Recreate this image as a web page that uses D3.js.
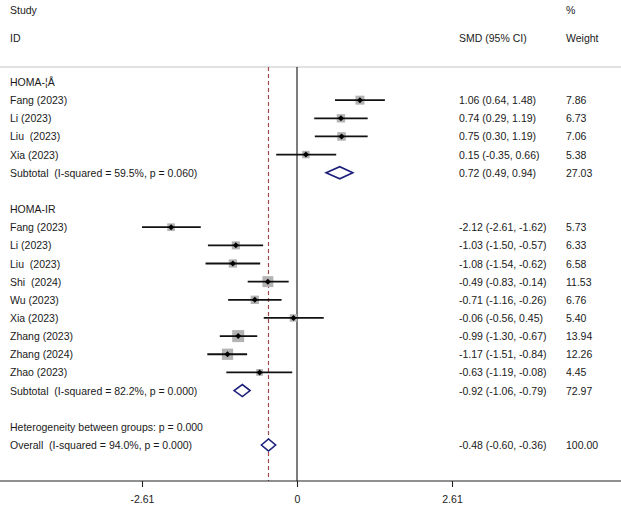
<!DOCTYPE html>
<html>
<head>
<meta charset="utf-8">
<script src="https://cdn.jsdelivr.net/npm/d3@7"></script>
<style>
  body { margin: 0; background: #fff; }
  text { font-family: "Liberation Sans", Arial, sans-serif; font-size: 10.5px; fill: #1a1a1a; white-space: pre; }
</style>
</head>
<body>
<svg id="forest" width="621" height="508"></svg>
<script>
// rows of the forest plot, top to bottom
const labels = ["HOMA-¦Å", "Fang (2023)", "Li (2023)", "Liu  (2023)", "Xia (2023)",
  "Subtotal  (I-squared = 59.5%, p = 0.060)", "",
  "HOMA-IR", "Fang (2023)", "Li (2023)", "Liu  (2023)", "Shi  (2024)", "Wu (2023)",
  "Xia (2023)", "Zhang (2023)", "Zhang (2024)", "Zhao (2023)",
  "Subtotal  (I-squared = 82.2%, p = 0.000)", "",
  "Heterogeneity between groups: p = 0.000",
  "Overall  (I-squared = 94.0%, p = 0.000)"];
const kinds = ["head", "study", "study", "study", "study", "sub", "blank",
  "head", "study", "study", "study", "study", "study", "study", "study", "study", "study",
  "sub", "blank", "het", "sub"];
const smd = [null, 1.06, 0.74, 0.75, 0.15, 0.72, null,
  null, -2.12, -1.03, -1.08, -0.49, -0.71, -0.06, -0.99, -1.17, -0.63, -0.92, null, null, -0.48];
const lower = [null, 0.64, 0.29, 0.30, -0.35, 0.49, null,
  null, -2.61, -1.50, -1.54, -0.83, -1.16, -0.56, -1.30, -1.51, -1.19, -1.06, null, null, -0.60];
const upper = [null, 1.48, 1.19, 1.19, 0.66, 0.94, null,
  null, -1.62, -0.57, -0.62, -0.14, -0.26, 0.45, -0.67, -0.84, -0.08, -0.79, null, null, -0.36];
const weights = [null, 7.86, 6.73, 7.06, 5.38, 27.03, null,
  null, 5.73, 6.33, 6.58, 11.53, 6.76, 5.40, 13.94, 12.26, 4.45, 72.97, null, null, 100.00];
const xTicks = [-2.61, 0, 2.61];
const overall = -0.48;

const svg = d3.select("#forest");
const x = d3.scaleLinear().domain([-2.61, 2.61]).range([142, 452]);
const y = d3.scaleLinear().domain([0, 20]).range([82, 445]);
const side = d3.scaleSqrt().domain([0, 13.94]).range([0, 12]);
// plain hyphen minus, like the original
const f2 = v => v.toFixed(2);

// headers
svg.append("text").attr("x", 10).attr("y", 14).text("Study");
svg.append("text").attr("x", 10).attr("y", 42).text("ID");
svg.append("text").attr("x", 459).attr("y", 42).text("SMD (95% CI)");
svg.append("text").attr("x", 566).attr("y", 14).text("%");
svg.append("text").attr("x", 566).attr("y", 42).text("Weight");

svg.append("line").attr("x1", 0).attr("x2", 621).attr("y1", 67).attr("y2", 67)
  .attr("stroke", "#c4c4c4").attr("stroke-width", 1.2);

// zero line and overall line
svg.append("line").attr("x1", x(0)).attr("x2", x(0)).attr("y1", 67).attr("y2", 481)
  .attr("stroke", "#111").attr("stroke-width", 1.1);
svg.append("line").attr("x1", x(overall)).attr("x2", x(overall)).attr("y1", 67).attr("y2", 481)
  .attr("stroke", "#a04a4a").attr("stroke-width", 1.2).attr("stroke-dasharray", "4,3");

const rows = labels.map((l, i) => ({ label: l, kind: kinds[i], est: smd[i], lo: lower[i], hi: upper[i], w: weights[i], i: i }));

// labels
svg.selectAll("text.lab").data(rows).join("text").attr("class", "lab")
  .attr("x", 10).attr("y", d => y(d.i) + 4).text(d => d.label);

const est = rows.filter(d => d.est !== null);
svg.selectAll("text.ci").data(est).join("text").attr("class", "ci")
  .attr("x", 459).attr("y", d => y(d.i) + 4)
  .text(d => `${f2(d.est)} (${f2(d.lo)}, ${f2(d.hi)})`);
svg.selectAll("text.wt").data(est).join("text").attr("class", "wt")
  .attr("x", 566).attr("y", d => y(d.i) + 4).text(d => f2(d.w));

// studies
const studies = rows.filter(d => d.kind === "study");
svg.selectAll("rect.box").data(studies).join("rect").attr("class", "box")
  .attr("x", d => x(d.est) - side(d.w) / 2).attr("y", d => y(d.i) - side(d.w) / 2)
  .attr("width", d => side(d.w)).attr("height", d => side(d.w))
  .attr("fill", "#b3b3b3");
svg.selectAll("line.ciline").data(studies).join("line").attr("class", "ciline")
  .attr("x1", d => x(d.lo)).attr("x2", d => x(d.hi))
  .attr("y1", d => y(d.i)).attr("y2", d => y(d.i))
  .attr("stroke", "#111").attr("stroke-width", 1.8);
svg.selectAll("path.dot").data(studies).join("path").attr("class", "dot")
  .attr("d", d => `M${x(d.est) - 3},${y(d.i)} L${x(d.est)},${y(d.i) - 3} L${x(d.est) + 3},${y(d.i)} L${x(d.est)},${y(d.i) + 3}Z`)
  .attr("fill", "#000");

// pooled diamonds
const pooled = rows.filter(d => d.kind === "sub");
svg.selectAll("path.diamond").data(pooled).join("path").attr("class", "diamond")
  .attr("d", d => `M${x(d.lo)},${y(d.i)} L${x(d.est)},${y(d.i) - 6} L${x(d.hi)},${y(d.i)} L${x(d.est)},${y(d.i) + 6}Z`)
  .attr("fill", "#fff").attr("stroke", "#1b1f7a").attr("stroke-width", 1.6);

// axis
svg.append("line").attr("x1", 0).attr("x2", 621).attr("y1", 481).attr("y2", 481)
  .attr("stroke", "#222").attr("stroke-width", 1.1);
const ax = svg.append("g").attr("transform", "translate(0,481)")
  .call(d3.axisBottom(x).tickValues(xTicks).tickSize(6).tickSizeOuter(0)
    .tickFormat(d => d === 0 ? "0" : f2(d)));
ax.select(".domain").remove();
ax.selectAll(".tick line").attr("stroke", "#222").attr("stroke-width", 1.1);
ax.selectAll(".tick text").attr("y", 15).style("font-size", "10.5px")
  .style("font-family", "'Liberation Sans', Arial, sans-serif").attr("fill", "#1a1a1a");
</script>
</body>
</html>
